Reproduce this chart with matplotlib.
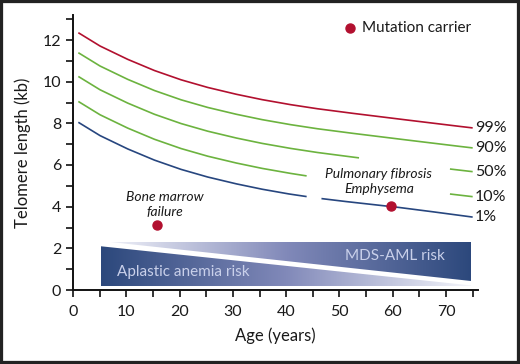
import numpy as np
import matplotlib
matplotlib.use("Agg")
import matplotlib.pyplot as plt
from matplotlib.patches import Polygon, Rectangle
from matplotlib.colors import LinearSegmentedColormap
from matplotlib.ticker import MultipleLocator

plt.rcParams['font.family'] = ['Lato', 'DejaVu Sans']

# ---------------- data ----------------
ages = [1, 5, 10, 15, 20, 25, 30, 35, 40, 45, 50, 55, 60, 65, 70, 75]
p99 = [12.35, 11.72, 11.10, 10.56, 10.11, 9.74, 9.43, 9.16, 8.93, 8.73, 8.56, 8.40, 8.24, 8.09, 7.93, 7.78]
p90 = [11.39, 10.76, 10.14, 9.60, 9.15, 8.78, 8.47, 8.20, 7.97, 7.77, 7.60, 7.44, 7.28, 7.13, 6.97, 6.82]
p50 = [10.25, 9.62, 9.00, 8.46, 8.01, 7.64, 7.33, 7.06, 6.83, 6.63, 6.46, 6.30, 6.14, 5.99, 5.83, 5.68]
p10 = [9.05, 8.42, 7.80, 7.26, 6.81, 6.44, 6.13, 5.86, 5.63, 5.43, 5.26, 5.10, 4.94, 4.79, 4.63, 4.48]
p01 = [8.05, 7.42, 6.80, 6.26, 5.81, 5.44, 5.13, 4.86, 4.63, 4.44, 4.28, 4.14, 4.00, 3.84, 3.67, 3.50]
percentile_labels = ['99%', '90%', '50%', '10%', '1%']
# age ranges where a curve is interrupted by annotation text
gaps = [None, None, (53.7, 70.7), (44.0, 70.7), (44.0, 46.6)]

carrier_age = [15.7, 59.7]
carrier_tl = [3.1, 4.04]

xticks = [0, 10, 20, 30, 40, 50, 60, 70]
yticks = [0, 2, 4, 6, 8, 10, 12]

# ---------------- style ----------------
RED = '#b2102f'
GREEN = '#6cb33f'
BLUE = '#27467f'
curve_colors = [RED, GREEN, GREEN, GREEN, BLUE]

fig = plt.figure(figsize=(5.2, 3.64), dpi=100)
ax = fig.add_axes([73/520, 74/364, 405/520, 275/364])

series = [p99, p90, p50, p10, p01]
for vals, col, gap, lab in zip(series, curve_colors, gaps, percentile_labels):
    a = np.asarray(ages, float)
    v = np.asarray(vals, float)
    fa = np.linspace(a[0], a[-1], 400)
    fv = np.interp(fa, a, v)
    if gap is not None:
        fv = np.where((fa > gap[0]) & (fa < gap[1]), np.nan, fv)
    ax.plot(fa, fv, color=col, lw=1.2, solid_capstyle='butt', zorder=3)
    ax.text(a[-1] + 0.4, v[-1], lab, ha='left', va='center', fontsize=11.5,
            color='#1a1a1a', clip_on=False)

# mutation carriers
ax.plot(carrier_age, carrier_tl, 'o', color=RED, ms=6.5, mec=RED, zorder=5)
ax.plot([52], [12.56], 'o', color=RED, ms=6.5, zorder=5)
ax.text(54.2, 12.56, 'Mutation carrier', ha='left', va='center', fontsize=11, color='#1a1a1a')

# annotations
ax.text(17.2, 4.1, 'Bone marrow\nfailure', ha='center', va='center', fontsize=10,
        style='italic', color='#1a1a1a', linespacing=1.25)
ax.text(57.4, 5.2, 'Pulmonary fibrosis\nEmphysema', ha='center', va='center', fontsize=10,
        style='italic', color='#1a1a1a', linespacing=1.25)

# risk band gradients
cmap = LinearSegmentedColormap.from_list('risk', ['#2c487c', '#8189b9', '#f5f6fb'])
x0, x1, yb, yt = 5.2, 74.7, 0.17, 2.3
grad = np.linspace(0, 1, 256).reshape(1, -1)

lower = Polygon([(x0, 2.1), (x1, 0.22), (x1, yb), (x0, yb)], closed=True,
                transform=ax.transData, facecolor='none', edgecolor='none')
ax.add_patch(lower)
im1 = ax.imshow(grad, extent=[x0, x1, yb, yt], aspect='auto', cmap=cmap, zorder=1,
                interpolation='bilinear')
im1.set_clip_path(lower)

upper = Polygon([(6.9, yt), (x1, yt), (x1, 0.42)], closed=True,
                transform=ax.transData, facecolor='none', edgecolor='none')
ax.add_patch(upper)
im2 = ax.imshow(grad[:, ::-1], extent=[x0, x1, yb, yt], aspect='auto', cmap=cmap, zorder=1,
                interpolation='bilinear')
im2.set_clip_path(upper)
ax.set_xlim(0, 76)
ax.set_ylim(0, 13.2)

ax.text(8.3, 0.87, 'Aplastic anemia risk', ha='left', va='center', fontsize=11, color='#c9d0ea', zorder=2)
ax.text(69.7, 1.62, 'MDS-AML risk', ha='right', va='center', fontsize=11, color='#c9d0ea', zorder=2)

# axes styling
for s in ['top', 'right']:
    ax.spines[s].set_visible(False)
for s in ['left', 'bottom']:
    ax.spines[s].set_linewidth(1.4)
    ax.spines[s].set_color('#111111')
ax.set_xticks(xticks)
ax.set_yticks(yticks)
ax.xaxis.set_minor_locator(MultipleLocator(5))
ax.yaxis.set_minor_locator(MultipleLocator(1))
ax.tick_params(which='both', direction='out', length=5, width=1.2, color='#111111')
ax.tick_params(labelsize=11.5, labelcolor='#1a1a1a')
ax.tick_params(axis='x', pad=6)
ax.set_xlabel('Age (years)', fontsize=12, color='#1a1a1a', labelpad=6)
ax.set_ylabel('Telomere length (kb)', fontsize=12, color='#1a1a1a', labelpad=8)

# outer frame
fig.patches.append(Rectangle((0, 0), 1, 1, transform=fig.transFigure, fill=False,
                             edgecolor='#222222', lw=4.5))

fig.savefig('out.png', dpi=100)
